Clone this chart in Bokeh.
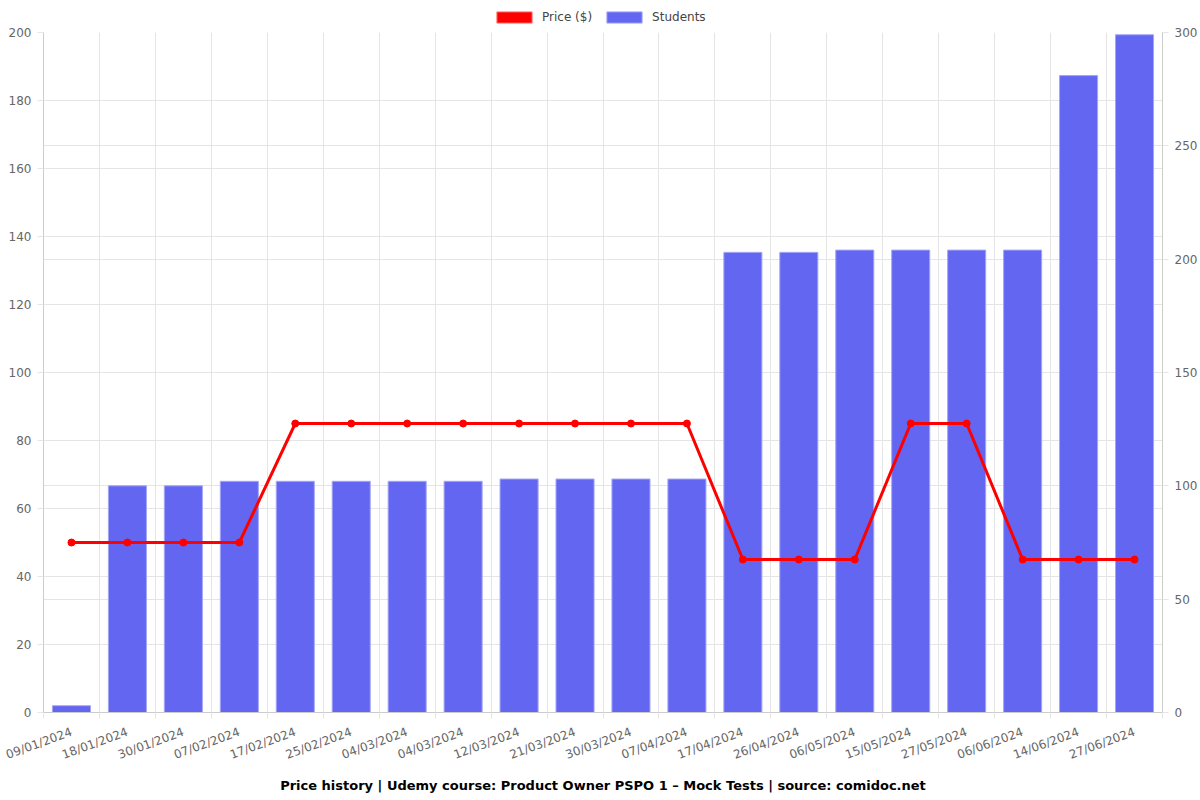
from bokeh.plotting import figure
from bokeh.layouts import column
from bokeh.models import (Range1d, LinearAxis, FixedTicker, Grid, Legend, LegendItem,
                          ColumnDataSource, Title)
from bokeh.embed import file_html
from bokeh.resources import INLINE
import math

dates = ["09/01/2024", "18/01/2024", "30/01/2024", "07/02/2024", "17/02/2024",
         "25/02/2024", "04/03/2024", "04/03/2024", "12/03/2024", "21/03/2024",
         "30/03/2024", "07/04/2024", "17/04/2024", "26/04/2024", "06/05/2024",
         "15/05/2024", "27/05/2024", "06/06/2024", "14/06/2024", "27/06/2024"]
price = [50, 50, 50, 50, 85, 85, 85, 85, 85, 85, 85, 85, 45, 45, 45, 85, 85, 45, 45, 45]
students = [3, 100, 100, 102, 102, 102, 102, 102, 103, 103, 103, 103,
            203, 203, 204, 204, 204, 204, 281, 299]
left_ticks = [0, 20, 40, 60, 80, 100, 120, 140, 160, 180, 200]
right_ticks = [0, 50, 100, 150, 200, 250, 300]
series_names = ["Price ($)", "Students"]
title_text = "Price history | Udemy course: Product Owner PSPO 1 \u2013 Mock Tests | source: comidoc.net"

FONT = "DejaVu Sans"
GRAY = "#666666"
GRID = "#e5e5e5"
BAR = "#6366F1"
BAR_EDGE = "#a3a5f7"

n = len(dates)
xs = list(range(n))
src = ColumnDataSource(dict(x=xs, price=price, students=students))

# ---------- legend strip (top) ----------
leg = figure(width=1200, height=24, output_backend="svg", toolbar_location=None,
             x_axis_type=None, y_axis_type=None, min_border=0,
             x_range=Range1d(0, 1), y_range=Range1d(0, 1))
leg.outline_line_color = None
leg.xgrid.visible = False
leg.ygrid.visible = False
nan = float("nan")
sw_price = leg.rect(x=[nan], y=[nan], width=1, height=1, fill_color="red", line_color="#ff7777")
sw_students = leg.rect(x=[nan], y=[nan], width=1, height=1, fill_color=BAR, line_color=BAR_EDGE)
legend = Legend(items=[LegendItem(label=series_names[0], renderers=[sw_price]),
                       LegendItem(label=series_names[1], renderers=[sw_students])],
                orientation="horizontal", location=(449, 0),
                glyph_width=44, glyph_height=14, label_text_font=FONT,
                label_text_font_size="12px", label_text_color="#444444",
                border_line_color=None, background_fill_alpha=0,
                padding=2, margin=0, spacing=10, label_standoff=6)
leg.add_layout(legend, "center")

# ---------- main chart ----------
p = figure(frame_width=1119, frame_height=680, output_backend="svg", toolbar_location=None,
           x_range=Range1d(-0.5, n - 0.5), y_range=Range1d(0, 200),
           min_border_left=43, min_border_right=38, min_border_top=8, min_border_bottom=88)
p.outline_line_color = None
p.extra_y_ranges = {"right": Range1d(0, 300)}

p.vbar(x="x", top="students", width=0.68, source=src, y_range_name="right",
       fill_color=BAR, line_color=BAR_EDGE, line_width=1)
p.line(x="x", y="price", source=src, line_color="red", line_width=3)
p.scatter(x="x", y="price", source=src, size=7, fill_color="red", line_color="red")

boundaries = [i - 0.5 for i in range(n + 1)]
xa = p.xaxis[0]
xa.ticker = FixedTicker(ticks=xs, minor_ticks=boundaries)
xa.major_label_overrides = {i: d for i, d in enumerate(dates)}
xa.major_label_orientation = math.radians(20)
xa.major_tick_out = 0
xa.major_tick_in = 0
xa.minor_tick_out = 6
xa.minor_tick_in = 0
xa.minor_tick_line_color = GRID
xa.axis_line_color = "#cccccc"
xa.major_label_text_font = FONT
xa.major_label_text_font_size = "12px"
xa.major_label_text_color = GRAY
xa.major_label_standoff = 13

p.xgrid.ticker = FixedTicker(ticks=boundaries)
p.xgrid.grid_line_color = GRID

ya = p.yaxis[0]
ya.ticker = FixedTicker(ticks=left_ticks)
ya.major_tick_out = 6
ya.major_tick_in = 0
ya.minor_tick_line_color = None
ya.major_tick_line_color = GRID
ya.axis_line_color = "#cccccc"
ya.major_label_text_font = FONT
ya.major_label_text_font_size = "12px"
ya.major_label_text_color = GRAY
ya.major_label_standoff = 6
p.ygrid.ticker = FixedTicker(ticks=left_ticks)
p.ygrid.grid_line_color = GRID

ra = LinearAxis(y_range_name="right", ticker=FixedTicker(ticks=right_ticks))
ra.major_tick_out = 6
ra.major_tick_in = 0
ra.minor_tick_line_color = None
ra.major_tick_line_color = GRID
ra.axis_line_color = "#cccccc"
ra.major_label_text_font = FONT
ra.major_label_text_font_size = "12px"
ra.major_label_text_color = GRAY
ra.major_label_standoff = 6
p.add_layout(ra, "right")
p.add_layout(Grid(dimension=1, ticker=FixedTicker(ticks=right_ticks), y_range_name="right",
                  grid_line_color=GRID))

t = Title(text=title_text, align="center", text_font=FONT, text_font_size="13px",
          text_font_style="bold", text_color="#000000", standoff=9)
p.add_layout(t, "below")

layout = column(leg, p, spacing=0)
open("out.html", "w").write(file_html(layout, INLINE))
